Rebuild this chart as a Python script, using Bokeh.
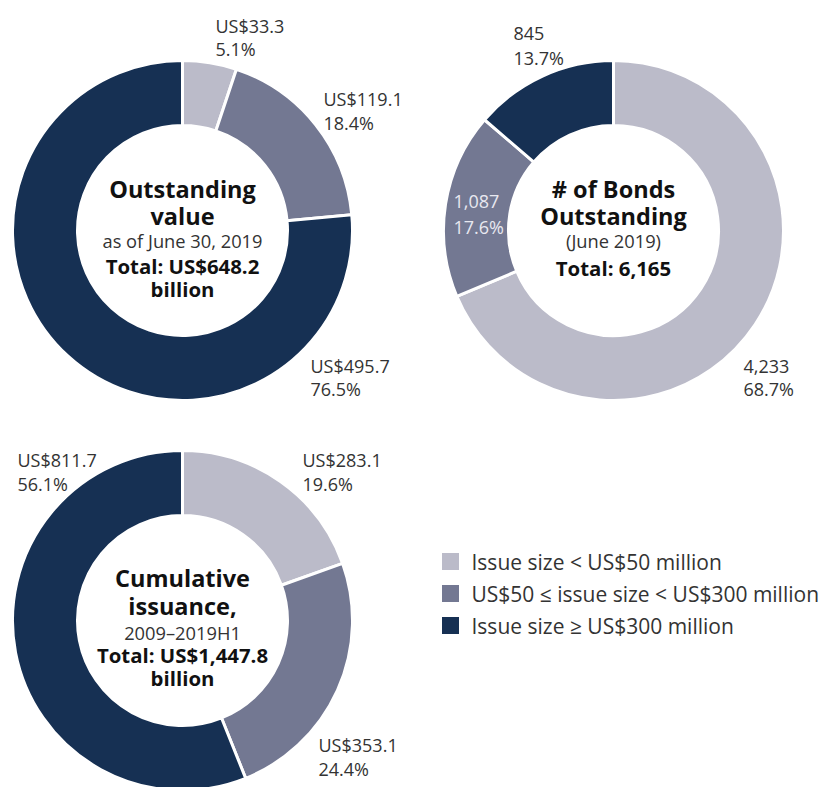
import math
from bokeh.plotting import figure
from bokeh.models import ColumnDataSource, Range1d
from bokeh.core.properties import value
from bokeh.embed import file_html
from bokeh.resources import INLINE

# ---------------- data ----------------
categories = ["Issue size < US$50 million",
              "US$50 \u2264 issue size < US$300 million",
              "Issue size \u2265 US$300 million"]
colors = ["#BBBBC9", "#737892", "#163053"]

outstanding_value = [33.3, 119.1, 495.7]
outstanding_pct = [5.1, 18.4, 76.5]
bonds_count = [4233, 1087, 845]
bonds_pct = [68.7, 17.6, 13.7]
cumulative_value = [283.1, 353.1, 811.7]
cumulative_pct = [19.6, 24.4, 56.1]

outstanding_title = ["Outstanding", "value"]
outstanding_sub = "as of June 30, 2019"
outstanding_total = ["Total: US$648.2", "billion"]
bonds_title = ["# of Bonds", "Outstanding"]
bonds_sub = "(June 2019)"
bonds_total = ["Total: 6,165"]
cumulative_title = ["Cumulative", "issuance,"]
cumulative_sub = "2009\u20132019H1"
cumulative_total = ["Total: US$1,447.8", "billion"]

# ---------------- layout ----------------
W, H = 829, 787
FONT = "Open Sans"
LABEL_COLOR = "#333333"
R_OUT, R_IN = 170, 105

def Y(page_y):  # page pixel -> data y
    return H - page_y

def X(page_x):
    return page_x

p = figure(width=W, height=H, output_backend="svg", toolbar_location=None,
           x_axis_type=None, y_axis_type=None, min_border=0,
           x_range=Range1d(0, W), y_range=Range1d(0, H))
p.outline_line_color = None
p.xgrid.visible = False
p.ygrid.visible = False
p.background_fill_color = "white"
p.border_fill_color = "white"


def donut(cx, cy, vals):
    tot = sum(vals)
    starts, ends, cum = [], [], 0.0
    for v in vals:
        starts.append(math.pi / 2 - 2 * math.pi * cum / tot)
        cum += v
        ends.append(math.pi / 2 - 2 * math.pi * cum / tot)
    src = ColumnDataSource(dict(x=[cx] * len(vals), y=[cy] * len(vals),
                                s=starts, e=ends, c=colors))
    p.annular_wedge(x="x", y="y", inner_radius=R_IN, outer_radius=R_OUT,
                    start_angle="s", end_angle="e", direction="clock",
                    fill_color="c", line_color="white", line_width=3, source=src)


def labels(xs, ys, texts, color=LABEL_COLOR, size="18px", style="normal",
           align="left"):
    src = ColumnDataSource(dict(x=xs, y=ys, t=texts))
    p.text(x="x", y="y", text="t", source=src, text_font=value(FONT),
           text_font_size=size, text_color=color, text_align=align,
           text_baseline="middle", text_font_style=style)


def center_block(cx, ys, title, sub, total):
    labels([cx] * len(title), ys[:len(title)], title, color="#111111",
           size="23.5px", style="bold", align="center")
    labels([cx], [ys[len(title)]], [sub], color="#333333", size="18.3px",
           align="center")
    labels([cx] * len(total), ys[len(title) + 1:], total, color="#111111",
           size="20.4px", style="bold", align="center")


# --- top-left: outstanding value
cx1, cy1 = X(182), Y(230)
donut(cx1, cy1, outstanding_value)
v_txt = ["US$%.1f" % v for v in outstanding_value]
p_txt = ["%.1f%%" % v for v in outstanding_pct]
labels([X(215), X(215), X(323), X(323), X(310), X(310)],
       [Y(25), Y(48), Y(98), Y(122), Y(365), Y(388)],
       [v_txt[0], p_txt[0], v_txt[1], p_txt[1], v_txt[2], p_txt[2]])
center_block(cx1, [Y(188), Y(215), Y(240), Y(265), Y(288)],
             outstanding_title, outstanding_sub, outstanding_total)

# --- top-right: number of bonds
cx2, cy2 = X(613), Y(230)
donut(cx2, cy2, bonds_count)
b_txt = ["{:,}".format(v) for v in bonds_count]
bp_txt = ["%.1f%%" % v for v in bonds_pct]
labels([X(743), X(743), X(513), X(513)],
       [Y(366), Y(388), Y(33), Y(57)],
       [b_txt[0], bp_txt[0], b_txt[2], bp_txt[2]])
labels([X(453), X(453)], [Y(201), Y(226)], [b_txt[1], bp_txt[1]],
       color="#E8E8F0")
center_block(cx2, [Y(188), Y(215), Y(240), Y(267)],
             bonds_title, bonds_sub, bonds_total)

# --- bottom-left: cumulative issuance
cx3, cy3 = X(182), Y(620)
donut(cx3, cy3, cumulative_value)
c_txt = ["US$%.1f" % v for v in cumulative_value]
cp_txt = ["%.1f%%" % v for v in cumulative_pct]
labels([X(302), X(302), X(318), X(318), X(17), X(17)],
       [Y(459), Y(483), Y(744), Y(768), Y(459), Y(483)],
       [c_txt[0], cp_txt[0], c_txt[1], cp_txt[1], c_txt[2], cp_txt[2]])
center_block(cx3, [Y(577), Y(605), Y(632), Y(654), Y(677)],
             cumulative_title, cumulative_sub, cumulative_total)

# --- legend
leg_y = [Y(561), Y(593), Y(625)]
leg_src = ColumnDataSource(dict(x=[X(450)] * 3, y=leg_y, c=colors, t=categories))
p.rect(x="x", y="y", width=17, height=17, fill_color="c", line_color=None,
       source=leg_src)
p.text(x=[X(471)] * 3, y=leg_y, text=categories, text_font=value(FONT),
       text_font_size="21px", text_color=LABEL_COLOR, text_align="left",
       text_baseline="middle")

open("out.html", "w").write(file_html(p, INLINE))
